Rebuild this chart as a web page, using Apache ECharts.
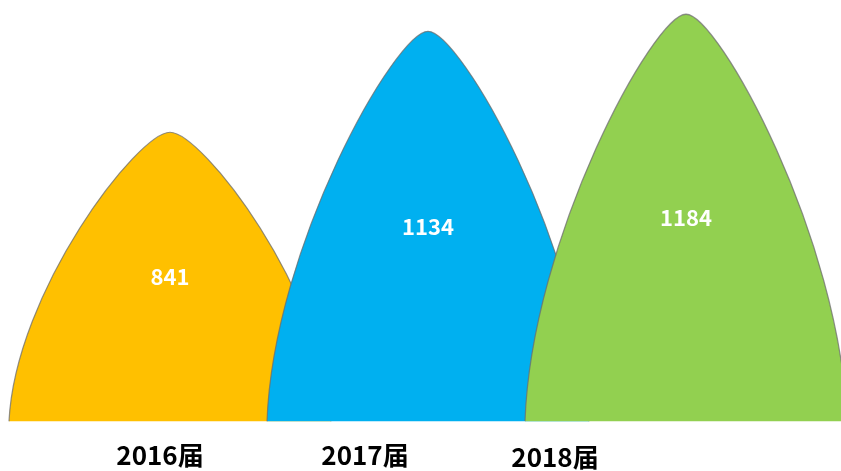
<!DOCTYPE html>
<html>
<head>
<meta charset="utf-8">
<script src="https://cdn.jsdelivr.net/npm/echarts@6/dist/echarts.min.js"></script>
<style>html,body{margin:0;padding:0;background:#fff;}#main{width:841px;height:471px;}</style>
</head>
<body>
<div id="main"></div>
<script>
var categories = ['2016届', '2017届', '2018届'];
var values = [841, 1134, 1184];
var colors = ['#FFC000', '#00B0F0', '#92D050'];

var chart = echarts.init(document.getElementById('main'));
var richKeys = ['a', 'b', 'c'];
var base = {fontFamily: 'Noto Sans CJK SC', fontWeight: 'bold', fontSize: 26, color: '#000', lineHeight: 30};
var rich = {
  a: Object.assign({}, base, {padding: [1, 20, 0, 0]}),
  b: Object.assign({}, base, {padding: [0, 126, 0, 0]}),
  c: Object.assign({}, base, {padding: [4, 262, 0, 0]})
};
chart.setOption({
  animation: false,
  backgroundColor: '#fff',
  grid: {left: 41, right: 26, top: 15, bottom: 49, containLabel: false, outerBoundsMode: 'none'},
  xAxis: {
    type: 'category',
    data: categories,
    axisLine: {show: false},
    axisTick: {show: false},
    axisLabel: {
      interval: 0,
      margin: 18,
      formatter: function (v, i) { return '{' + richKeys[i] + '|' + v + '}'; },
      rich: rich
    }
  },
  yAxis: {
    type: 'value',
    min: 0,
    max: Math.max.apply(null, values),
    show: false,
    splitLine: {show: false}
  },
  series: [{
    type: 'pictorialBar',
    symbol: 'path://M0,100 C2,55 40,0 50,0 C60,0 98,55 100,100',
    symbolSize: [322, '100%'],
    barCategoryGap: '0%',
    label: {
      show: true,
      position: 'inside',
      color: '#fff',
      fontFamily: 'Noto Sans CJK SC',
      fontWeight: 'bold',
      fontSize: 22
    },
    itemStyle: {
      borderColor: 'rgba(110,110,110,0.75)',
      borderWidth: 1.5
    },
    data: values.map(function (v, i) {
      return {value: v, itemStyle: {color: colors[i]}};
    })
  }]
});
</script>
</body>
</html>
